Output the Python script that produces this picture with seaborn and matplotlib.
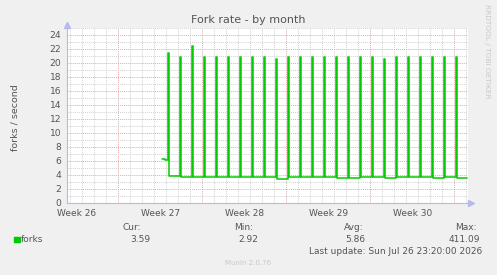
import numpy as np
import pandas as pd
import matplotlib
matplotlib.use("Agg")
import matplotlib.pyplot as plt
import matplotlib.patches as mpatches
import seaborn as sns

# ---------------- data ----------------
title = "Fork rate - by month"
y_label = "forks / second"
series_name = "forks"

week_labels = ["Week 26", "Week 27", "Week 28", "Week 29", "Week 30"]
week_label_days = [-3.42, 3.58, 10.58, 17.58, 24.58]   # label centres (days)
week_boundaries = [0, 7, 14, 21, 28]                  # red grid lines (days)

start_day = 3.667          # first sample (days)
sample_step = 1 / 12       # 2-hour samples
pre_values = [6.3, 6.3, 6.3, 6.2, 6.2, 6.2]
spike_heights = [21.4, 20.9, 22.5, 20.9, 20.9, 20.9, 20.9, 20.9, 20.8, 20.6,
                 20.9, 20.9, 20.8, 20.9, 20.8, 20.9, 20.8, 20.9, 20.6, 20.8,
                 20.9, 20.8, 20.9, 20.8, 20.8]
base_levels = [3.8, 3.7, 3.7, 3.7, 3.7, 3.7, 3.7, 3.7, 3.7, 3.5,
               3.7, 3.7, 3.7, 3.7, 3.6, 3.6, 3.7, 3.7, 3.6, 3.7,
               3.7, 3.7, 3.6, 3.7, 3.6]
samples_after_spike = [11] * 24 + [10]

legend_heads = ["Cur:", "Min:", "Avg:", "Max:"]
legend_vals = ["3.59", "2.92", "5.86", "411.09"]
last_update = "Last update: Sun Jul 26 23:20:00 2026"
footer = "Munin 2.0.76"
side_text = "RRDTOOL / TOBI OETIKER"

# ---------------- build series ----------------
vals = list(pre_values)
for h, b, n in zip(spike_heights, base_levels, samples_after_spike):
    vals += [h] + [b] * n
vals.append(vals[-1])
t = start_day + np.arange(len(vals)) * sample_step
df = pd.DataFrame({"day": t, "rate": vals})

# ---------------- figure ----------------
sns.set_theme(style="white")
plt.rcParams["font.family"] = ["DejaVu Sans"]

W, H = 497, 275
fig = plt.figure(figsize=(W / 100, H / 100), dpi=100, facecolor="#F0F0F0")
L, R, T, B = 67, 468, 28, 203
ax = fig.add_axes([L / W, 1 - B / H, (R - L) / W, (B - T) / H])
ax.set_facecolor("white")

axis_col = "#B8B8F0"
txt_col = "#555555"

ax.set_xlim(-4.25, 29.17)
ax.set_ylim(0, 25)

# grid
ax.set_xticks(week_boundaries)
ax.set_xticks(np.arange(-4, 30, 1), minor=True)
ax.set_yticks(np.arange(0, 25, 2))
ax.set_yticks(np.arange(1, 26, 2), minor=True)
ax.grid(which="minor", color="#D2D2D2", linestyle=(0, (1, 1)), linewidth=0.7)
ax.grid(which="major", color="#EAA8A8", linestyle=(0, (1, 1)), linewidth=0.7)
ax.set_axisbelow(True)

sns.lineplot(data=df, x="day", y="rate", ax=ax, color="#00CC00",
             linewidth=1.1, drawstyle="steps-post", estimator=None, sort=False)

ax.set_xlabel("")
ax.set_ylabel("")
ax.set_xticklabels([])
ax.tick_params(axis="x", which="major", length=2.5, color="#EAA8A8", width=0.8)
ax.tick_params(axis="x", which="minor", length=0)
ax.tick_params(axis="y", which="major", length=2, color=axis_col, width=0.8,
               labelsize=6.6, labelcolor=txt_col, pad=2)
ax.tick_params(axis="y", which="minor", length=0)

for sp in ["top", "right"]:
    ax.spines[sp].set_visible(False)
for sp in ["left", "bottom"]:
    ax.spines[sp].set_color(axis_col)
    ax.spines[sp].set_linewidth(0.8)

# axis arrows
ax.plot([0], [1.015], marker="^", color=axis_col, markersize=4,
        transform=ax.transAxes, clip_on=False)
ax.plot([1.008], [0], marker=">", color=axis_col, markersize=4,
        transform=ax.transAxes, clip_on=False)
ax.plot([1.0, 1.008], [0, 0], color=axis_col, lw=0.8, transform=ax.transAxes, clip_on=False)

# week labels
for lab, d in zip(week_labels, week_label_days):
    ax.text(d, -0.035, lab, transform=ax.get_xaxis_transform(), ha="center",
            va="top", fontsize=6.5, color=txt_col)

def fx(px):
    return px / W

def fy(py):
    return 1 - py / H

fig.text(fx(248), fy(20), title, ha="center", va="center", fontsize=8, color="#555555")
fig.text(fx(15), fy(118), y_label, ha="center", va="center", rotation=90,
         fontsize=6.8, color=txt_col)
fig.text(fx(487), fy(51), side_text, ha="center", va="center", rotation=270,
         fontsize=5.3, color="#C8C8C8")

# legend block
fig.patches.append(mpatches.Rectangle((fx(14), fy(242)), 6 / W, 5 / H,
                                      transform=fig.transFigure, color="#00CC00"))
fig.text(fx(20.5), fy(239.5), series_name, ha="left", va="center", fontsize=6.5, color=txt_col)
head_x = [132, 244, 354, 477]
val_x = [140, 248, 355, 480]
for i, (hd, v) in enumerate(zip(legend_heads, legend_vals)):
    ha = "right" if i == 3 else "center"
    fig.text(fx(head_x[i]), fy(227.5), hd, ha=ha, va="center", fontsize=6.5, color=txt_col)
    fig.text(fx(val_x[i]), fy(239.5), v, ha=ha, va="center", fontsize=6.5, color=txt_col)
fig.text(fx(482), fy(251), last_update, ha="right", va="center", fontsize=6.5, color=txt_col)
fig.text(fx(248), fy(263), footer, ha="center", va="center", fontsize=5, color="#C8C8C8")

fig.savefig("out.png", dpi=100, facecolor=fig.get_facecolor())
